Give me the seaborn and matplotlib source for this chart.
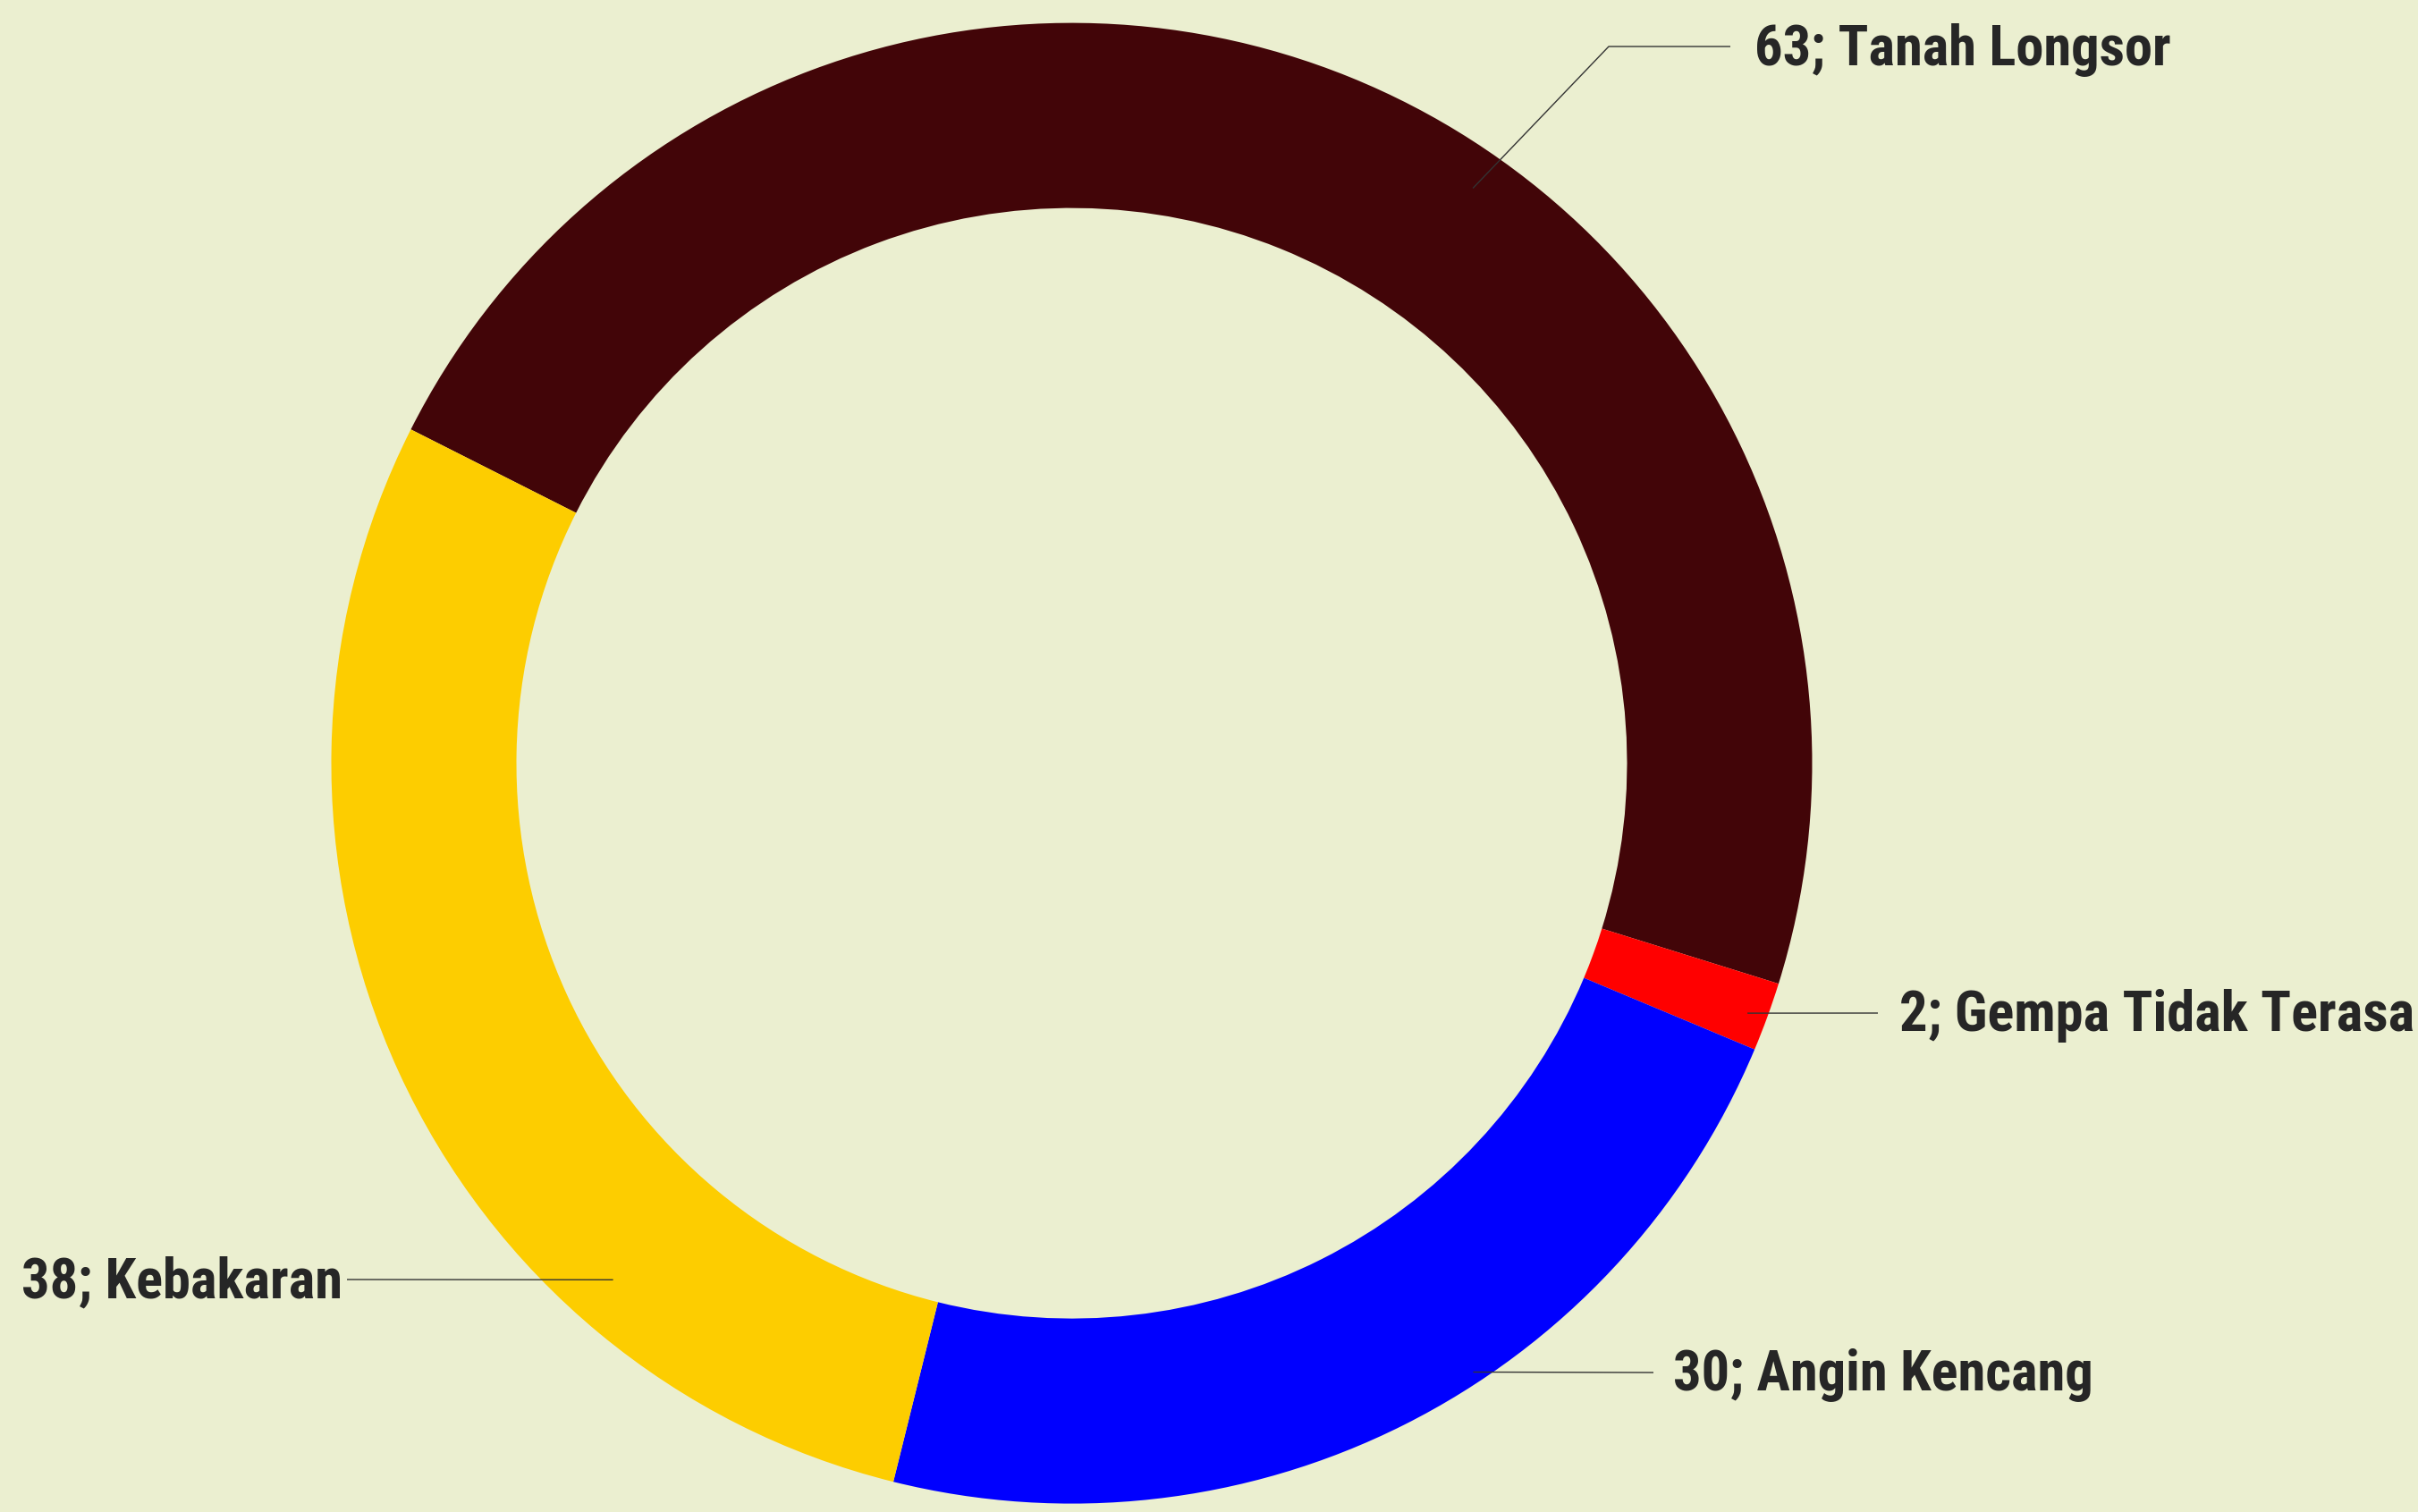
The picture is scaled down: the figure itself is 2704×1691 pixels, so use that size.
import numpy as np
import seaborn as sns
import matplotlib.pyplot as plt
from matplotlib import font_manager as fm

# Data
categories = ['Tanah Longsor', 'Gempa Tidak Terasa', 'Angin Kencang', 'Kebakaran']
values = [63, 2, 30, 38]
colors = ['#420508', '#ff0000', '#0000ff', '#fdcd00']

bg = '#ebefd0'
text_color = '#262626'

sns.set_style('white')
plt.rcParams['font.family'] = ['DejaVu Sans']

# condensed bold face for the labels
def pick_font():
    for f in fm.fontManager.ttflist:
        if f.name == 'Roboto Condensed' and 'Bold' in f.fname and 'Italic' not in f.fname:
            return fm.FontProperties(fname=f.fname)
    return fm.FontProperties(family='DejaVu Sans', weight='bold')

fp = pick_font()

W, H = 2704, 1691
fig = plt.figure(figsize=(W / 100, H / 100), dpi=100, facecolor=bg)
ax = fig.add_axes([0, 0, 1, 1])
ax.set_facecolor(bg)

# donut geometry in pixel units
cx, cy = 1198.5, H - 853.6
R = 828

wedges, _ = ax.pie(values, colors=colors, startangle=153.2, counterclock=False,
                   radius=R, center=(cx, cy),
                   wedgeprops=dict(width=R * 0.25, linewidth=0))

# leader lines: anchor angle, anchor radius fraction, elbow, line end, text x, alignment
layout = [
    (55.1, 0.947, (1799, H - 52), (1935, H - 52), 1962, 'left'),
    (-20.3, 0.973, None, (2100, H - 1133), 2124, 'left'),
    (-56.6, 0.985, None, (1849, H - 1535), 1871, 'left'),
    (-131.6, 0.933, None, (388, H - 1431), 383, 'right'),
]

for cat, val, (ang, rf, elbow, end, tx, ha) in zip(categories, values, layout):
    a = np.deg2rad(ang)
    ax0 = cx + rf * R * np.cos(a)
    ay0 = cy + rf * R * np.sin(a)
    xs = [ax0] + ([elbow[0]] if elbow else []) + [end[0]]
    ys = [ay0] + ([elbow[1]] if elbow else []) + [end[1]]
    ax.plot(xs, ys, color='#333333', lw=1.0, solid_capstyle='butt')
    t = ax.text(tx, end[1] + 3, f'{val}; {cat}', ha=ha, va='center_baseline',
                fontproperties=fp, color=text_color)
    t.set_fontsize(45)

ax.set_xlim(0, W)
ax.set_ylim(0, H)
ax.set_aspect('equal')
ax.axis('off')

fig.savefig('out.png', dpi=100, facecolor=bg)
